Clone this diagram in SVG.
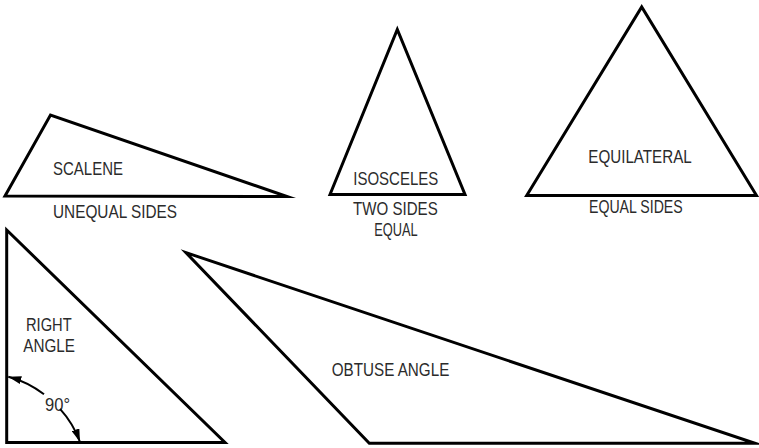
<svg xmlns="http://www.w3.org/2000/svg" width="759" height="448" viewBox="0 0 759 448">
<defs>
<style>
.tri{fill:none;stroke:#000;stroke-width:3;stroke-linejoin:miter;stroke-miterlimit:20}
.lbl{font-family:"Liberation Sans",Arial,sans-serif;font-size:19px;fill:#2b2b2b}
.arc{fill:none;stroke:#000;stroke-width:2}
</style>
<marker id="ah" viewBox="0 0 13 8" refX="13" refY="4" markerWidth="13" markerHeight="8" markerUnits="userSpaceOnUse" orient="auto-start-reverse">
<path d="M0 0 L13 4 L0 8 Z" fill="#000"/>
</marker>
</defs>
<rect width="759" height="448" fill="#fff"/>
<g id="scalene">
<polygon class="tri" points="5,196 50.5,115 287,196.5"/>
<text class="lbl" x="53" y="175" textLength="70" lengthAdjust="spacingAndGlyphs">SCALENE</text>
<text class="lbl" x="53" y="218" textLength="124" lengthAdjust="spacingAndGlyphs">UNEQUAL SIDES</text>
</g>
<g id="isosceles">
<polygon class="tri" points="330,194.5 397.3,29.5 465,194.5"/>
<text class="lbl" x="353.3" y="185" textLength="85" lengthAdjust="spacingAndGlyphs">ISOSCELES</text>
<text class="lbl" x="353" y="214.5" textLength="84.7" lengthAdjust="spacingAndGlyphs">TWO SIDES</text>
<text class="lbl" x="374.3" y="236" textLength="43.4" lengthAdjust="spacingAndGlyphs">EQUAL</text>
</g>
<g id="equilateral">
<polygon class="tri" points="526.7,195.5 641.7,7 756.5,195.5"/>
<text class="lbl" x="588.3" y="163.3" textLength="103.4" lengthAdjust="spacingAndGlyphs">EQUILATERAL</text>
<text class="lbl" x="589" y="213.3" textLength="93.7" lengthAdjust="spacingAndGlyphs">EQUAL SIDES</text>
</g>
<g id="right">
<polygon class="tri" points="6.7,230 6.7,442.5 225,442.5"/>
<text class="lbl" x="26" y="331" textLength="45.7" lengthAdjust="spacingAndGlyphs">RIGHT</text>
<text class="lbl" x="23.3" y="351.7" textLength="51.7" lengthAdjust="spacingAndGlyphs">ANGLE</text>
<text class="lbl" x="45" y="410.7" textLength="25" lengthAdjust="spacingAndGlyphs">90°</text>
</g>
<g id="obtuse">
<polygon class="tri" points="186,252.7 369.3,443.3 755,443.3"/>
<text class="lbl" x="331.7" y="376" textLength="117.6" lengthAdjust="spacingAndGlyphs">OBTUSE ANGLE</text>
</g>
<g id="connectors">
<path class="arc" d="M44 394.3 A100 100 0 0 0 8.3 376.7" marker-end="url(#ah)"/>
<path class="arc" d="M60 408.9 A100 100 0 0 1 80 442" marker-end="url(#ah)"/>
</g>
</svg>
